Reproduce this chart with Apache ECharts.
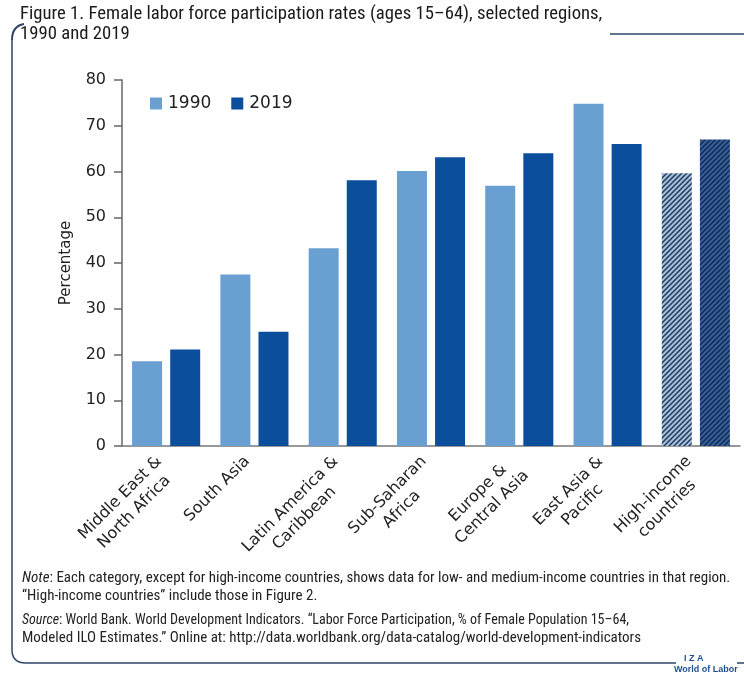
<!DOCTYPE html>
<html>
<head>
<meta charset="utf-8">
<script src="https://cdn.jsdelivr.net/npm/echarts@6/dist/echarts.min.js"></script>
<style>
html,body{margin:0;padding:0;background:#fff;}
#chart{width:744px;height:677px;}
</style>
</head>
<body>
<div id="chart"></div>
<script>
const categories = ["Middle East &\nNorth Africa", "South Asia", "Latin America &\nCaribbean", "Sub-Saharan\nAfrica", "Europe &\nCentral Asia", "East Asia &\nPacific", "High-income\ncountries"];
const values1990 = [18.5, 37.5, 43.2, 60.1, 56.9, 74.8, 59.6];
const values2019 = [21.1, 25.0, 58.1, 63.1, 64.0, 66.0, 67.0];
const yTicks = [0, 10, 20, 30, 40, 50, 60, 70, 80];
const seriesNames = ["1990", "2019"];

const C1990 = '#6a9fd2';
const C2019 = '#0b4f9c';

function hatch(bg, fg) {
  const c = document.createElement('canvas');
  c.width = 5; c.height = 5;
  const g = c.getContext('2d');
  g.fillStyle = bg; g.fillRect(0, 0, 5, 5);
  g.strokeStyle = fg; g.lineWidth = 1.5;
  g.beginPath();
  g.moveTo(-1, 6); g.lineTo(6, -1);
  g.moveTo(-1, 1); g.lineTo(1, -1);
  g.moveTo(4, 6); g.lineTo(6, 4);
  g.stroke();
  return { image: c, repeat: 'repeat' };
}
const hatch1990 = hatch('#a9bfd6', '#1d3a64');
const hatch2019 = hatch('#3a5f93', '#0d2a5c');

function makeData(vals, hatchFill) {
  return vals.map((v, i) => i === vals.length - 1 ? { value: v, itemStyle: { color: hatchFill } } : v);
}

const FONT = 'DejaVu Sans';
const NARROW = '"Liberation Sans Narrow", "Roboto Condensed", "Liberation Sans", sans-serif';
const FRAME = '#2d4668';

const chart = echarts.init(document.getElementById('chart'), null, { renderer: 'canvas' });
chart.setOption({
  animation: false,
  backgroundColor: '#fff',
  grid: { left: 122, right: 4, top: 80, bottom: 231, containLabel: false },
  legend: {
    left: 145, top: 90,
    itemWidth: 12, itemHeight: 12, itemGap: 20,
    icon: 'rect',
    textStyle: { fontFamily: FONT, fontSize: 17, color: '#222', padding: [0, 0, 0, 1] },
    data: seriesNames
  },
  xAxis: {
    type: 'category',
    data: categories,
    axisLine: { lineStyle: { color: '#777', width: 1.5 } },
    axisTick: { show: false },
    axisLabel: {
      interval: 0, rotate: 45, margin: 20, verticalAlign: 'middle',
      formatter: v => {
        const lines = v.split('\n');
        if (lines.length === 1) lines.push(' ');
        return lines.map(l => '{c|' + l + '}').join('\n');
      },
      rich: { c: { fontFamily: FONT, fontSize: 16, color: '#222', lineHeight: 20, align: 'center' } }
    }
  },
  yAxis: {
    type: 'value', min: 0, max: 80, interval: 10,
    name: 'Percentage', nameLocation: 'middle', nameGap: 48, nameRotate: 90,
    nameTextStyle: { fontFamily: FONT, fontSize: 15, color: '#222' },
    axisLine: { show: true, lineStyle: { color: '#666', width: 1.5 } },
    axisTick: { show: true, length: 8, lineStyle: { color: '#666', width: 1.5 } },
    axisLabel: { fontFamily: FONT, fontSize: 16, color: '#222', margin: 16,
      formatter: v => yTicks.includes(v) ? String(v) : '' },
    splitLine: { show: false }
  },
  series: [
    { name: seriesNames[0], type: 'bar', data: makeData(values1990, hatch1990),
      itemStyle: { color: C1990 }, barWidth: 30, barGap: '27%' },
    { name: seriesNames[1], type: 'bar', data: makeData(values2019, hatch2019),
      itemStyle: { color: C2019 }, barWidth: 30, barGap: '27%' }
  ],
  graphic: [
    { type: 'text', left: 20, top: 4, style: { text: 'Figure 1. Female labor force participation rates (ages 15–64), selected regions,\n1990 and 2019', font: '18.7px ' + NARROW, fill: '#1a1a1a', lineHeight: 20 } },
    { type: 'bezierCurve', shape: { x1: 12, y1: 40, cpx1: 12, cpy1: 26, x2: 24, y2: 24 }, style: { fill: null, stroke: FRAME, lineWidth: 2 } },
    { type: 'line', shape: { x1: 610, y1: 34, x2: 744, y2: 34 }, style: { stroke: FRAME, lineWidth: 1.5 } },
    { type: 'polyline', shape: { points: [[12, 40], [12, 650]] }, style: { fill: null, stroke: FRAME, lineWidth: 1.5 } },
    { type: 'bezierCurve', shape: { x1: 12, y1: 650, cpx1: 12, cpy1: 663, x2: 26, y2: 663 }, style: { fill: null, stroke: FRAME, lineWidth: 1.5 } },
    { type: 'line', shape: { x1: 26, y1: 663, x2: 676, y2: 663 }, style: { stroke: FRAME, lineWidth: 1.5 } },
    { type: 'line', shape: { x1: 737, y1: 663, x2: 744, y2: 663 }, style: { stroke: FRAME, lineWidth: 1.5 } },
    { type: 'text', left: 684, top: 654, style: { text: 'I Z A', font: 'bold 9px "Liberation Sans", sans-serif', fill: '#1f4f8f' } },
    { type: 'text', left: 674, top: 665, style: { text: 'World of Labor', font: 'bold 9px "Liberation Sans", sans-serif', fill: '#1f4f8f' } },
    { type: 'text', left: 22, top: 569, style: {
      rich: {
        i: { font: 'italic 15px ' + NARROW, fill: '#222' },
        n: { font: '15px ' + NARROW, fill: '#222' }
      },
      text: '{i|Note}{n|: Each category, except for high-income countries, shows data for low- and medium-income countries in that region.}\n{n|“High-income countries” include those in Figure 2.}',
      lineHeight: 18
    } },
    { type: 'text', left: 22, top: 611, style: {
      rich: {
        i: { font: 'italic 14px ' + NARROW, fill: '#222' },
        n: { font: '14px ' + NARROW, fill: '#222' },
        m: { font: '15px ' + NARROW, fill: '#222' }
      },
      text: '{i|Source}{n|: World Bank. World Development Indicators. “Labor Force Participation, % of Female Population 15–64,}\n{m|Modeled ILO Estimates.” Online at: http://data.worldbank.org/data-catalog/world-development-indicators}',
      lineHeight: 18
    } }
  ]
});
</script>
</body>
</html>
